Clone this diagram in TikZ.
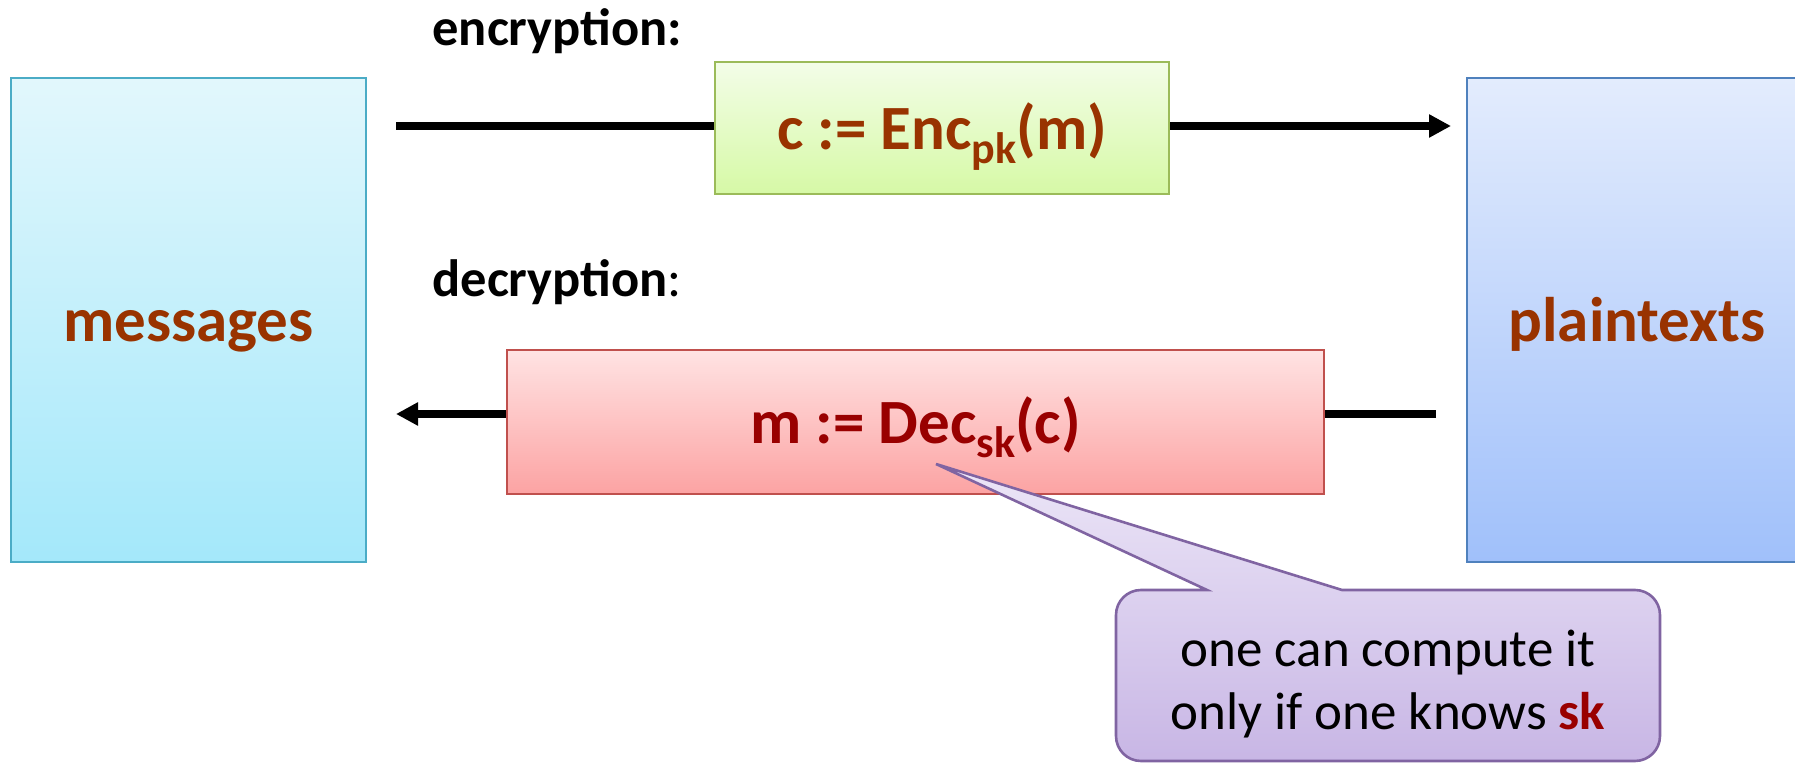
\documentclass[tikz,border=0pt]{standalone}
\usepackage{fontspec}
\setmainfont{Carlito}
\usetikzlibrary{arrows.meta}

\definecolor{brick}{HTML}{993300}
\definecolor{deepred}{HTML}{990000}
% box palettes (border / top / bottom)
\definecolor{aquaB}{HTML}{4BACC6}\definecolor{aquaT}{HTML}{E2F7FC}\definecolor{aquaD}{HTML}{A4E8FA}
\definecolor{blueB}{HTML}{4F81BD}\definecolor{blueT}{HTML}{E3ECFD}\definecolor{blueD}{HTML}{A0C0FA}
\definecolor{greenB}{HTML}{9BBB59}\definecolor{greenT}{HTML}{F3FDE8}\definecolor{greenD}{HTML}{D6F9A6}
\definecolor{redB}{HTML}{C0504D}\definecolor{redT}{HTML}{FFE3E3}\definecolor{redD}{HTML}{FCA3A3}
\definecolor{lilacB}{HTML}{8064A2}\definecolor{lilacT}{HTML}{ECE6F7}\definecolor{lilacD}{HTML}{C8B6E5}

% lowered, smaller index text
\newcommand\lowsub[1]{\raisebox{-0.22em}{\fontsize{22}{22}\selectfont #1}}

\begin{document}
\begin{tikzpicture}[x=0.5pt,y=-0.5pt,
  boxtext/.style={inner sep=0pt, text height=21.5pt, text depth=0pt,
    font=\fontsize{31.5}{36}\selectfont\bfseries},
  setbox/.style={boxtext, draw, line width=1.3pt, minimum height=242pt, text=brick},
  funbox/.style={boxtext, draw, line width=1.3pt},
  caption/.style={anchor=base west, inner sep=0pt, font=\fontsize{26.25}{30}\selectfont},
  flow/.style={line width=3.6pt},
  tip/.style={-{Triangle[length=11pt,width=11pt]}}
]
\useasboundingbox (0,0) rectangle (1795,764);

% the two sets
\node[setbox, draw=aquaB, top color=aquaT, bottom color=aquaD, minimum width=177.5pt]
  (msg) at (188.5,320) {messages};
\node[setbox, draw=blueB, top color=blueT, bottom color=blueD, minimum width=170pt]
  (pln) at (1637,320) {plaintexts};

% the two maps
\node[funbox, draw=greenB, top color=greenT, bottom color=greenD, text=brick,
  minimum width=227pt, minimum height=66pt]
  (enc) at (942,128) {c := Enc\lowsub{pk}(m)};
\node[funbox, draw=redB, top color=redT, bottom color=redD, text=deepred,
  minimum width=408.5pt, minimum height=72pt]
  (dec) at (915.5,422) {m := Dec\lowsub{sk}(c)};

% captions
\node[caption] (enclab) at (432,46) {\textbf{encryption:}};
\node[caption] (declab) at (432,297) {\textbf{decryption}:};

% arrows
\coordinate (encA) at (396,126);
\coordinate (encB) at (1451,126);
\coordinate (decA) at (1436,414);
\coordinate (decB) at (396,414);
\draw[flow] (encA) -- (encA -| enc.west);
\draw[flow, tip] (enc.east |- encB) -- (encB);
\draw[flow] (decA) -- (decA -| dec.east);
\draw[flow, tip] (dec.west |- decB) -- (decB);

% speech bubble
\coordinate (pin) at (936,464);
\draw[line width=1.3pt, draw=lilacB, top color=lilacT, bottom color=lilacD]
  (pin) -- (1342,590) -- (1635,590) arc[start angle=90,end angle=0,radius=12.5pt]
  -- (1660,736) arc[start angle=0,end angle=-90,radius=12.5pt]
  -- (1141,761) arc[start angle=270,end angle=180,radius=12.5pt]
  -- (1116,615) arc[start angle=180,end angle=90,radius=12.5pt]
  -- (1207,590) -- cycle;
\node[align=center, inner sep=0pt, font=\fontsize{26.5}{31.5}\selectfont] (note) at (1388,684)
  {one can compute it\\only if one knows \textcolor{deepred}{\textbf{sk}}};
\end{tikzpicture}
\end{document}
